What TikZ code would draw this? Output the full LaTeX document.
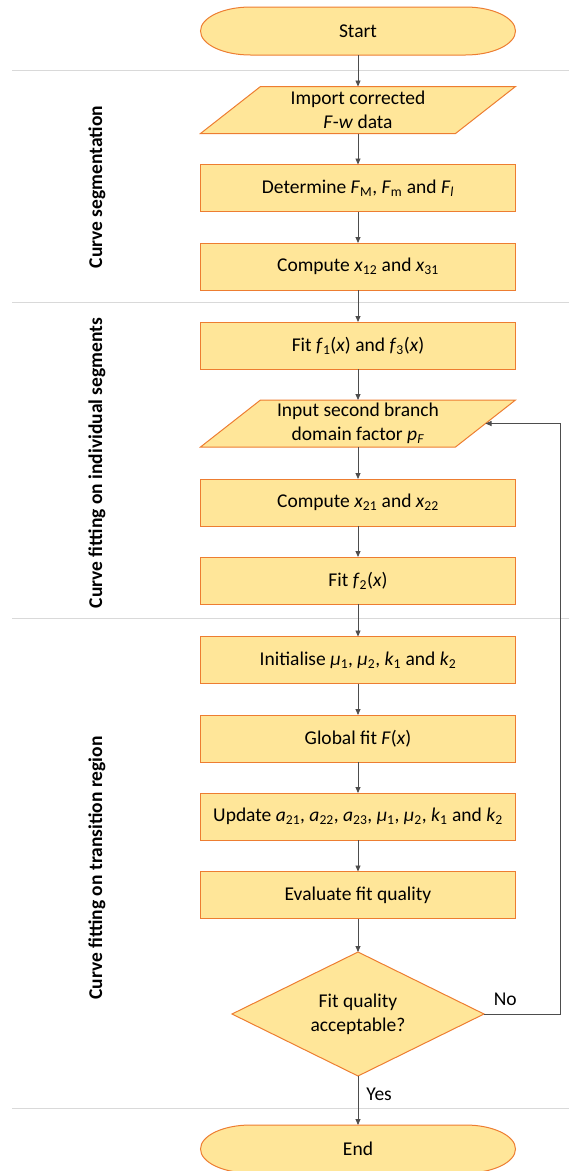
\documentclass[tikz,border=0pt]{standalone}
\usepackage{fontspec}
\setmainfont{Carlito}
\usetikzlibrary{arrows.meta,shapes.geometric,backgrounds}
\definecolor{boxfill}{HTML}{FFE699}
\definecolor{boxline}{HTML}{ED7D31}
\definecolor{sepline}{HTML}{D9D9D9}
\definecolor{arrline}{HTML}{4D4D4D}
\newcommand{\vi}[1]{\textit{#1}}
\newcommand{\sbs}[1]{\textsubscript{#1}}
\tikzset{
  base/.style={font=\fontsize{19.5}{24}\selectfont, text=black, align=center, inner sep=0pt, outer sep=0pt},
  procbox/.style={base, draw=boxline, fill=boxfill, line width=1pt, minimum width=315pt, minimum height=47pt},
  termnode/.style={base, minimum width=315pt, minimum height=48pt},
  ionode/.style={base, minimum width=255pt, minimum height=47pt},
  decnode/.style={base, shape=diamond, aspect=2, draw=boxline, fill=boxfill, line width=1pt, minimum width=252pt, minimum height=124pt},
  shapefill/.style={draw=boxline, fill=boxfill, line width=1pt},
  arr/.style={draw=arrline, line width=0.8pt, -{Triangle[length=6pt,width=5pt]}},
  sep/.style={draw=sepline, line width=1pt},
  seclabel/.style={font=\bfseries\fontsize{19.5}{24}\selectfont, rotate=90, inner sep=0pt},
  lbl/.style={font=\fontsize{19.5}{24}\selectfont, inner sep=2pt}
}
\begin{document}
\begin{tikzpicture}[x=1pt,y=1pt]
\useasboundingbox (0,0) rectangle (569,-1171);
% separators
\draw[sep] (12,-70) -- (569,-70);
\draw[sep] (12,-302.5) -- (569,-302.5);
\draw[sep] (12,-618) -- (569,-618);
\draw[sep] (12,-1108) -- (569,-1108);
% section labels
\node[seclabel] (s1) at (97,-187) {Curve segmentation};
\node[seclabel] (s2) at (97,-463) {Curve fitting on individual segments};
\node[seclabel] (s3) at (97,-868) {Curve fitting on transition region};
% nodes
\node[termnode] (start) at (358,-31) {Start};
\node[ionode] (imp) at (358,-110) {Import corrected\\\vi{F}-\vi{w} data};
\node[procbox] (det) at (358,-188) {Determine \vi{F}\sbs{M}, \vi{F}\sbs{m} and \vi{F}\sbs{\vi{l}}};
\node[procbox] (cx1) at (358,-266.5) {Compute \vi{x}\sbs{12} and \vi{x}\sbs{31}};
\node[procbox] (f13) at (358,-345.5) {Fit \vi{f}\sbs{1}(\vi{x}) and \vi{f}\sbs{3}(\vi{x})};
\node[ionode] (inp) at (358,-423.5) {Input second branch\\domain factor \vi{p}\sbs{\vi{F}}};
\node[procbox] (cx2) at (358,-502.5) {Compute \vi{x}\sbs{21} and \vi{x}\sbs{22}};
\node[procbox] (f2) at (358,-580.5) {Fit \vi{f}\sbs{2}(\vi{x})};
\node[procbox] (ini) at (358,-660) {Initialise \vi{μ}\sbs{1}, \vi{μ}\sbs{2}, \vi{k}\sbs{1} and \vi{k}\sbs{2}};
\node[procbox] (glo) at (358,-738.5) {Global fit \vi{F}(\vi{x})};
\node[procbox] (upd) at (358,-816.5) {Update \vi{a}\sbs{21}, \vi{a}\sbs{22}, \vi{a}\sbs{23}, \vi{μ}\sbs{1}, \vi{μ}\sbs{2}, \vi{k}\sbs{1} and \vi{k}\sbs{2}};
\node[procbox] (eva) at (358,-895) {Evaluate fit quality};
\node[decnode] (dec) at (358,-1014) {Fit quality\\acceptable?};
\node[termnode] (end) at (358,-1149) {End};
% custom shapes behind text
\begin{scope}[on background layer]
\foreach \n in {start,end}{
  \path[shapefill] ([xshift=50pt]\n.north west) -- ([xshift=-50pt]\n.north east)
    arc[start angle=90, end angle=-90, x radius=50pt, y radius=24pt]
    -- ([xshift=50pt]\n.south west)
    arc[start angle=270, end angle=90, x radius=50pt, y radius=24pt] -- cycle;
}
\foreach \n in {imp,inp}{
  \path[shapefill] ([xshift=30pt]\n.north west) -- ([xshift=30pt]\n.north east)
    -- ([xshift=-30pt]\n.south east) -- ([xshift=-30pt]\n.south west) -- cycle;
}
\end{scope}
% connectors
\draw[arr] (start) -- (imp);
\draw[arr] (imp) -- (det);
\draw[arr] (det) -- (cx1);
\draw[arr] (cx1) -- (f13);
\draw[arr] (f13) -- (inp);
\draw[arr] (inp) -- (cx2);
\draw[arr] (cx2) -- (f2);
\draw[arr] (f2) -- (ini);
\draw[arr] (ini) -- (glo);
\draw[arr] (glo) -- (upd);
\draw[arr] (upd) -- (eva);
\draw[arr] (eva) -- (dec);
\draw[arr] (dec) -- node[lbl, right=6pt, pos=0.38] (yes) {Yes} (end);
\draw[arr] (dec.east) -- node[lbl, above=6pt, pos=0.28] (no) {No} ++(76,0) |- (inp.east);
\end{tikzpicture}
\end{document}
